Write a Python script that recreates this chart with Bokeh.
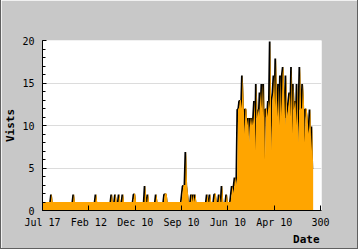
from bokeh.plotting import figure
from bokeh.models import Range1d, FixedTicker, Title, ColumnDataSource
from bokeh.transform import dodge
from bokeh.embed import file_html
from bokeh.resources import INLINE

# ---- data ----
visits = [
    1, 1, 1, 1, 1, 1, 1, 1, 1, 1,
    2, 1, 1, 1, 1, 1, 1, 1, 1, 1,
    1, 1, 1, 1, 1, 1, 1, 1, 1, 1,
    1, 1, 1, 1, 2, 1, 1, 1, 1, 1,
    1, 1, 1, 1, 1, 1, 1, 1, 1, 1,
    1, 1, 1, 1, 1, 1, 1, 1, 2, 1,
    1, 1, 1, 1, 1, 1, 1, 1, 1, 1,
    1, 1, 1, 1, 1, 2, 1, 1, 1, 2,
    1, 1, 1, 2, 1, 1, 1, 2, 1, 1,
    1, 1, 1, 1, 1, 1, 1, 1, 1, 2,
    2, 1, 1, 1, 1, 1, 1, 1, 1, 1,
    1, 3, 1, 1, 2, 1, 1, 1, 1, 1,
    1, 1, 1, 2, 1, 1, 1, 1, 1, 1,
    1, 1, 2, 2, 2, 1, 1, 1, 1, 1,
    1, 1, 1, 1, 1, 1, 1, 1, 1, 1,
    1, 2, 3, 3, 3, 7, 3, 2, 1, 1,
    1, 2, 1, 2, 1, 2, 1, 1, 1, 1,
    1, 1, 1, 1, 1, 1, 1, 1, 2, 1,
    1, 2, 1, 1, 1, 1, 2, 2, 1, 1,
    1, 2, 1, 1, 3, 1, 1, 1, 1, 2,
    1, 1, 1, 1, 2, 3, 2, 3, 4, 3, 4,
    12, 12, 13, 13, 12, 16, 13, 9, 12,
    12, 10, 11, 8, 11, 10, 11, 10, 11, 13,
    7, 15, 11, 12, 11, 14, 12, 15, 11,
    15, 6, 12, 12, 11, 13, 12, 20, 7, 13,
    14, 16, 12, 18, 13, 11, 15, 10, 16, 11,
    16, 17, 13, 10, 16, 11, 12, 13, 14, 11,
    17, 9, 15, 12, 13, 10, 15, 8, 12, 17,
    12, 12, 15, 13, 8, 12, 12, 11, 9, 10,
    12, 7, 10, 5,
]
day = list(range(len(visits)))

x_tick_values = [0, 50, 100, 150, 200, 250, 300]
x_tick_labels = ["Jul 17", "Feb 12", "Dec 10", "Sep 10", "Jun 10", "Apr 10", "300"]
y_tick_values = [0, 5, 10, 15, 20]

source = ColumnDataSource(data=dict(day=day, visits=visits))

MONO = "DejaVu Sans Mono"
GRAY = "#c8c8c8"
ORANGE = "#ffa500"

p = figure(width=358, height=249, output_backend="svg", toolbar_location=None,
           x_range=Range1d(0, 301), y_range=Range1d(0, 20),
           min_border_left=41, min_border_right=38,
           min_border_top=40, min_border_bottom=39)
p.styles = {"border-left": "1px solid #606060", "border-right": "1px solid #606060",
            "border-bottom": "1px solid #606060"}

p.background_fill_color = "white"
p.border_fill_color = GRAY
p.outline_line_color = None

# line drawn under the area (visible on rising edges only, as in the reference)
p.line(x=dodge("day", -0.9), y=dodge("visits", -0.12), source=source,
       line_color="black", line_width=1.8)
p.varea(x="day", y1=0, y2="visits", source=source, fill_color=ORANGE)

# grid
p.xgrid.grid_line_color = None
p.ygrid.grid_line_color = "#dcdcdc"
p.ygrid.grid_line_width = 1

# x axis
xa = p.xaxis[0]
xa.ticker = FixedTicker(ticks=x_tick_values)
xa.major_label_overrides = {v: l for v, l in zip(x_tick_values, x_tick_labels)}
xa.major_tick_in = 5
xa.major_tick_out = 0
xa.minor_tick_line_color = None
xa.axis_line_color = "black"
xa.major_tick_line_color = "black"
xa.major_label_standoff = 6
xa.major_label_text_font = MONO
xa.major_label_text_font_size = "10px"
xa.major_label_text_color = "black"

# y axis
ya = p.yaxis[0]
ya.ticker = FixedTicker(ticks=y_tick_values, minor_ticks=list(range(0, 21)))
ya.major_tick_in = 4
ya.major_tick_out = 0
ya.minor_tick_in = 3
ya.minor_tick_out = 0
ya.axis_line_color = "black"
ya.major_tick_line_color = "black"
ya.minor_tick_line_color = "black"
ya.major_label_standoff = 8
ya.major_label_text_font = MONO
ya.major_label_text_font_size = "10px"
ya.major_label_text_color = "black"
ya.axis_label = "Vists"
ya.axis_label_standoff = 2
ya.axis_label_text_font = MONO
ya.axis_label_text_font_size = "11px"
ya.axis_label_text_font_style = "bold"
ya.axis_label_text_color = "black"

p.add_layout(Title(text="Date", align="right", text_font=MONO, text_font_size="11px",
                   text_font_style="bold", text_color="black", standoff=0, offset=2),
             "below")

open("out.html", "w").write(file_html(p, INLINE))
